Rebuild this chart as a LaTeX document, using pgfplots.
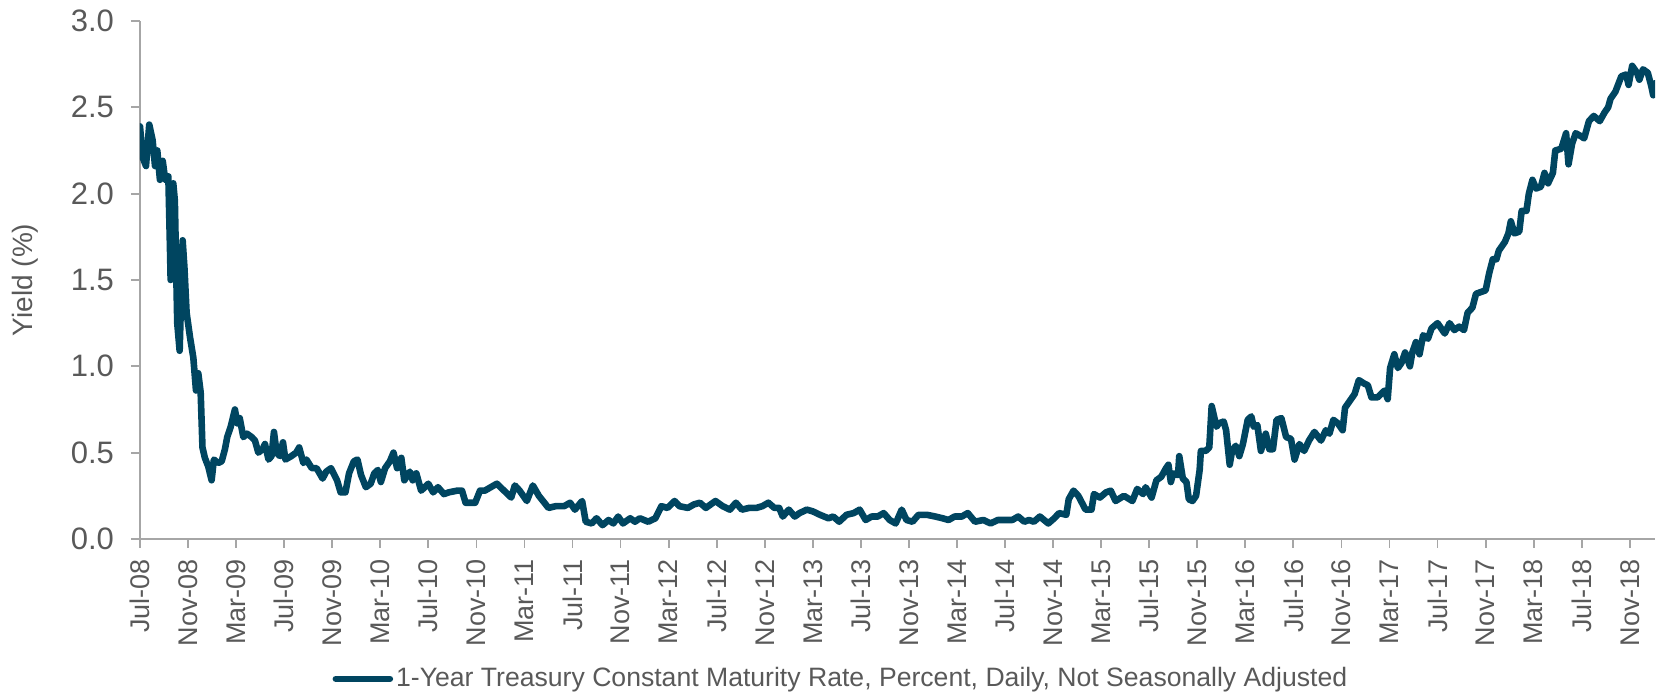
\documentclass[border=0pt]{standalone}
\usepackage{fontspec}
\setmainfont{Liberation Sans}
\usepackage{pgfplots}
\pgfplotsset{compat=1.18}
\usetikzlibrary{calc}
\definecolor{linec}{HTML}{004560}
\definecolor{txt}{HTML}{595959}
\definecolor{axc}{HTML}{A6A6A6}

\pgfplotstableread{
m v
0 2.39
0.22 2.21
0.5 2.16
0.77 2.40
1.05 2.31
1.25 2.16
1.44 2.25
1.66 2.08
1.89 2.19
2.1 2.08
2.36 2.10
2.5 1.67
2.55 1.50
2.77 2.06
2.9 1.96
3.1 1.25
3.3 1.09
3.55 1.73
3.7 1.57
3.88 1.31
4.16 1.17
4.44 1.05
4.66 0.86
4.85 0.96
5.05 0.85
5.2 0.53
5.4 0.47
5.68 0.42
5.96 0.34
6.15 0.46
6.5 0.44
6.8 0.45
7.07 0.52
7.26 0.59
7.55 0.65
7.9 0.75
8.1 0.67
8.3 0.70
8.6 0.59
8.9 0.61
9.3 0.59
9.57 0.57
9.85 0.50
10.2 0.52
10.4 0.55
10.7 0.46
10.95 0.48
11.15 0.62
11.37 0.50
11.65 0.48
11.9 0.56
12.1 0.46
12.6 0.48
13.0 0.50
13.25 0.53
13.6 0.44
13.85 0.46
14.3 0.41
14.7 0.41
15.2 0.35
15.5 0.39
15.9 0.41
16.4 0.34
16.7 0.27
17.1 0.27
17.4 0.38
17.8 0.45
18.1 0.46
18.4 0.37
18.8 0.30
19.2 0.32
19.5 0.38
19.8 0.40
20.05 0.33
20.4 0.41
20.8 0.45
21.1 0.50
21.4 0.41
21.75 0.47
22.0 0.34
22.46 0.39
22.7 0.34
23.0 0.38
23.4 0.28
24.0 0.32
24.4 0.27
24.8 0.30
25.3 0.26
25.7 0.27
26.4 0.28
26.8 0.28
27.1 0.21
27.9 0.21
28.3 0.28
28.7 0.28
29.2 0.30
29.7 0.32
30.3 0.28
30.9 0.24
31.2 0.31
31.6 0.28
32.2 0.22
32.7 0.31
33.2 0.25
34.0 0.18
34.6 0.19
35.3 0.19
35.8 0.21
36.2 0.17
36.8 0.22
37.1 0.10
37.6 0.09
38.0 0.12
38.5 0.08
39.0 0.11
39.4 0.09
39.8 0.13
40.2 0.09
40.8 0.12
41.2 0.10
41.6 0.12
42.3 0.10
42.9 0.12
43.4 0.19
43.9 0.18
44.5 0.22
44.9 0.19
45.6 0.18
46.1 0.20
46.6 0.21
47.1 0.18
47.9 0.22
48.5 0.19
49.1 0.17
49.6 0.21
50.1 0.17
50.7 0.18
51.3 0.18
51.8 0.19
52.3 0.21
52.8 0.18
53.2 0.18
53.5 0.13
54.0 0.17
54.5 0.13
54.9 0.15
55.5 0.17
56.0 0.16
56.6 0.14
57.3 0.12
57.7 0.13
58.2 0.10
58.8 0.14
59.4 0.15
59.9 0.17
60.4 0.11
60.9 0.13
61.4 0.13
61.9 0.15
62.4 0.11
62.9 0.09
63.4 0.17
63.8 0.11
64.3 0.10
64.8 0.14
65.5 0.14
66.2 0.13
66.8 0.12
67.3 0.11
67.8 0.13
68.4 0.13
68.9 0.15
69.5 0.10
70.2 0.11
70.8 0.09
71.4 0.11
72.0 0.11
72.6 0.11
73.1 0.13
73.6 0.10
74.0 0.11
74.4 0.10
74.9 0.13
75.6 0.09
76.1 0.12
76.5 0.15
77.1 0.14
77.3 0.23
77.7 0.28
78.1 0.25
78.4 0.21
78.7 0.17
79.2 0.17
79.4 0.26
79.9 0.24
80.4 0.27
80.8 0.28
81.2 0.22
81.9 0.25
82.6 0.22
83.0 0.29
83.5 0.26
83.7 0.30
84.2 0.24
84.6 0.34
85.0 0.36
85.4 0.41
85.6 0.43
85.8 0.33
86.0 0.38
86.4 0.37
86.5 0.48
86.8 0.35
87.1 0.33
87.3 0.23
87.6 0.22
87.9 0.25
88.2 0.40
88.3 0.51
88.7 0.51
89.0 0.53
89.2 0.77
89.6 0.65
89.8 0.67
90.2 0.68
90.4 0.63
90.7 0.43
90.9 0.51
91.2 0.54
91.5 0.48
91.8 0.55
92.2 0.69
92.5 0.71
92.7 0.65
93.0 0.66
93.3 0.51
93.7 0.61
94.0 0.52
94.3 0.52
94.6 0.69
95.0 0.70
95.4 0.59
95.8 0.58
96.1 0.46
96.5 0.55
96.9 0.51
97.3 0.57
97.75 0.62
98.3 0.57
98.7 0.63
99.0 0.61
99.33 0.69
99.7 0.67
100.1 0.63
100.3 0.76
100.7 0.80
101.1 0.84
101.45 0.92
101.9 0.90
102.2 0.89
102.5 0.82
103.0 0.82
103.6 0.86
103.85 0.81
104.05 0.99
104.4 1.07
104.7 0.99
105.0 1.02
105.3 1.08
105.7 1.00
105.9 1.08
106.2 1.14
106.5 1.07
106.8 1.18
107.2 1.16
107.5 1.22
108.0 1.25
108.6 1.19
109.0 1.25
109.4 1.21
109.8 1.23
110.2 1.21
110.5 1.31
110.9 1.34
111.2 1.42
111.6 1.43
112.0 1.44
112.3 1.54
112.6 1.62
112.9 1.62
113.1 1.67
113.6 1.72
113.9 1.77
114.1 1.84
114.4 1.77
114.8 1.78
115.0 1.90
115.4 1.90
115.6 2.00
115.9 2.08
116.2 2.03
116.6 2.04
116.9 2.12
117.2 2.06
117.6 2.12
117.8 2.25
118.3 2.26
118.7 2.35
118.9 2.17
119.2 2.29
119.5 2.35
120.0 2.33
120.2 2.32
120.6 2.42
121.0 2.45
121.5 2.42
121.9 2.47
122.2 2.50
122.4 2.55
122.8 2.59
123.3 2.68
123.7 2.69
123.9 2.63
124.2 2.74
124.6 2.70
124.8 2.66
125.1 2.72
125.5 2.70
125.8 2.62
125.95 2.57
126.1 2.64
}\yielddata

\begin{document}
\begin{tikzpicture}
\begin{axis}[
  name=ax,
  scale only axis,
  width=757.5pt, height=259pt,
  xmin=0, xmax=126.1, ymin=0, ymax=3,
  axis x line*=bottom, axis y line*=left,
  axis line style={axc, line width=0.9pt},
  tick style={axc, line width=0.9pt},
  tick align=outside,
  major tick length=4.5pt,
  ytick={0,0.5,1,1.5,2,2.5,3},
  yticklabel style={font=\fontsize{15.5}{17}\selectfont, text=txt, xshift=-5pt,
    /pgf/number format/.cd, fixed, fixed zerofill, precision=1, assume math mode=true},
  xtick={0,4,...,124},
  xticklabels={Jul-08,Nov-08,Mar-09,Jul-09,Nov-09,Mar-10,Jul-10,Nov-10,Mar-11,Jul-11,Nov-11,Mar-12,Jul-12,Nov-12,Mar-13,Jul-13,Nov-13,Mar-14,Jul-14,Nov-14,Mar-15,Jul-15,Nov-15,Mar-16,Jul-16,Nov-16,Mar-17,Jul-17,Nov-17,Mar-18,Jul-18,Nov-18},
  xticklabel style={font=\fontsize{13.5}{15}\selectfont, text=txt, rotate=90, anchor=east, xshift=-2pt},
  ylabel={Yield (\%)},
  ylabel style={font=\fontsize{14}{16}\selectfont, text=txt, at={(rel axis cs:0,0.5)}, anchor=center, yshift=57.5pt},
  legend style={at={(0.463,-0.270)}, anchor=center, draw=none, fill=none,
    font=\fontsize{13.3}{15}\selectfont, text=txt, nodes={inner xsep=1.5pt}},
  legend image code/.code={\draw[linec, line width=3.3pt, line cap=round] (0pt,0pt) -- (27pt,0pt);},
]
\addplot[linec, line width=3.3pt, line join=round, line cap=round, mark=none] table[x=m, y=v] {\yielddata};
\addlegendentry{1-Year Treasury Constant Maturity Rate, Percent, Daily, Not Seasonally Adjusted}
\end{axis}
\pgfresetboundingbox
\path[use as bounding box] ($(ax.south west)+(-70pt,-77pt)$) rectangle ($(ax.north east)+(2.5pt,10.5pt)$);
\end{tikzpicture}
\end{document}
